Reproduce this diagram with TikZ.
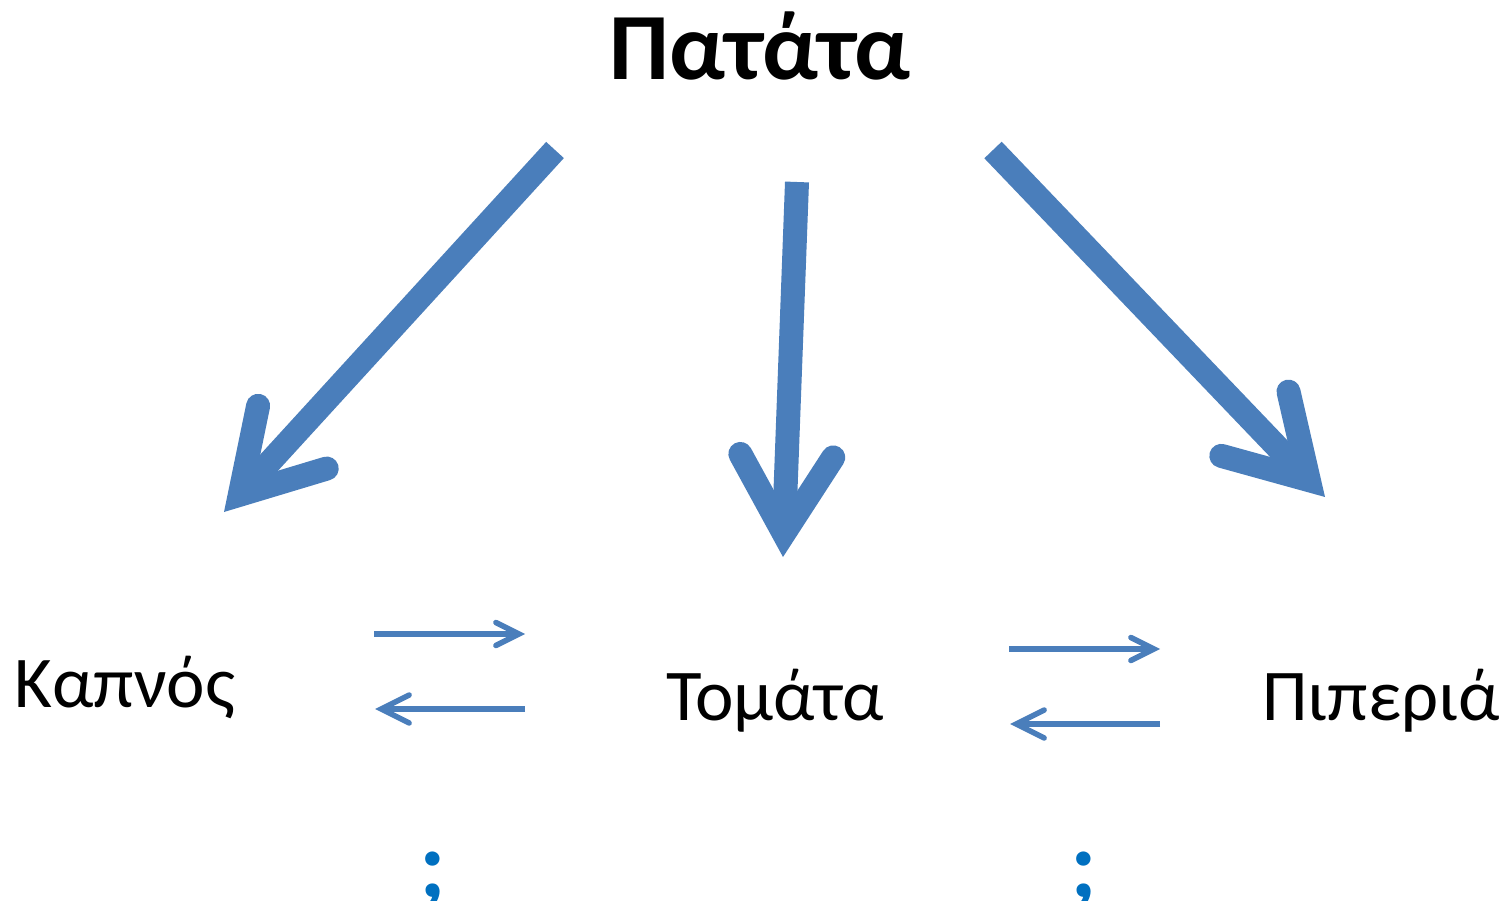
\documentclass[tikz,border=0pt]{standalone}
\usepackage{fontspec}
\setmainfont{Carlito}
\usetikzlibrary{arrows.meta,positioning}
\definecolor{arrowblue}{RGB}{74,126,187}
\definecolor{askblue}{RGB}{0,112,192}
\tikzset{
  title/.style  = {font=\fontsize{54}{60}\selectfont\bfseries, anchor=base},
  word/.style   = {font=\fontsize{41.5}{48}\selectfont, anchor=base},
  ask/.style    = {font=\fontsize{55}{60}\selectfont\bfseries, text=askblue, anchor=base},
  bigarrow/.style   = {draw=arrowblue, line width=0.48cm,
    -{Straight Barb[length=1.56cm, width=1.86cm, line cap=round, line join=miter]}},
  smallarrow/.style = {draw=arrowblue, line width=0.11cm,
    -{Straight Barb[length=0.46cm, width=0.46cm, line cap=round, line join=miter]}},
  backarrow/.style  = {draw=arrowblue, line width=0.11cm,
    -{Straight Barb[length=0.56cm, width=0.56cm, line cap=round, line join=miter]}}
}

\begin{document}
\begin{tikzpicture}[x=0.02cm, y=-0.02cm]
    \useasboundingbox (0,0) rectangle (1510,901);

    \node[title] (potato)  at (760,80)   {Πατάτα};
    \node[word]  (tobacco) at (125,707)  {Καπνός};
    \node[word]  (tomato)  at (775,720)  {Τομάτα};
    \node[word]  (pepper)  at (1381,720) {Πιπεριά};
    \node[ask]   (q1)      at (433,897)  {;};
    \node[ask]   (q2)      at (1084,897) {;};

    % big arrows
    \coordinate (s1) at (555,150);  \coordinate (e1) at (224,512);
    \coordinate (s2) at (797,182);  \coordinate (e2) at (783,557);
    \coordinate (s3) at (993,150);  \coordinate (e3) at (1325,497);
    \draw[bigarrow] (s1) -- (e1);
    \draw[bigarrow] (s2) -- (e2);
    \draw[bigarrow] (s3) -- (e3);

    % exchange arrows
    \coordinate (a1) at (374,634);  \coordinate (b1) at (525,634);
    \coordinate (a2) at (525,709);  \coordinate (b2) at (375,709);
    \coordinate (a3) at (1009,649); \coordinate (b3) at (1160,649);
    \coordinate (a4) at (1160,724); \coordinate (b4) at (1010,724);
    \draw[smallarrow] (a1) -- (b1);
    \draw[backarrow]  (a2) -- (b2);
    \draw[smallarrow] (a3) -- (b3);
    \draw[backarrow]  (a4) -- (b4);
\end{tikzpicture}
\end{document}
